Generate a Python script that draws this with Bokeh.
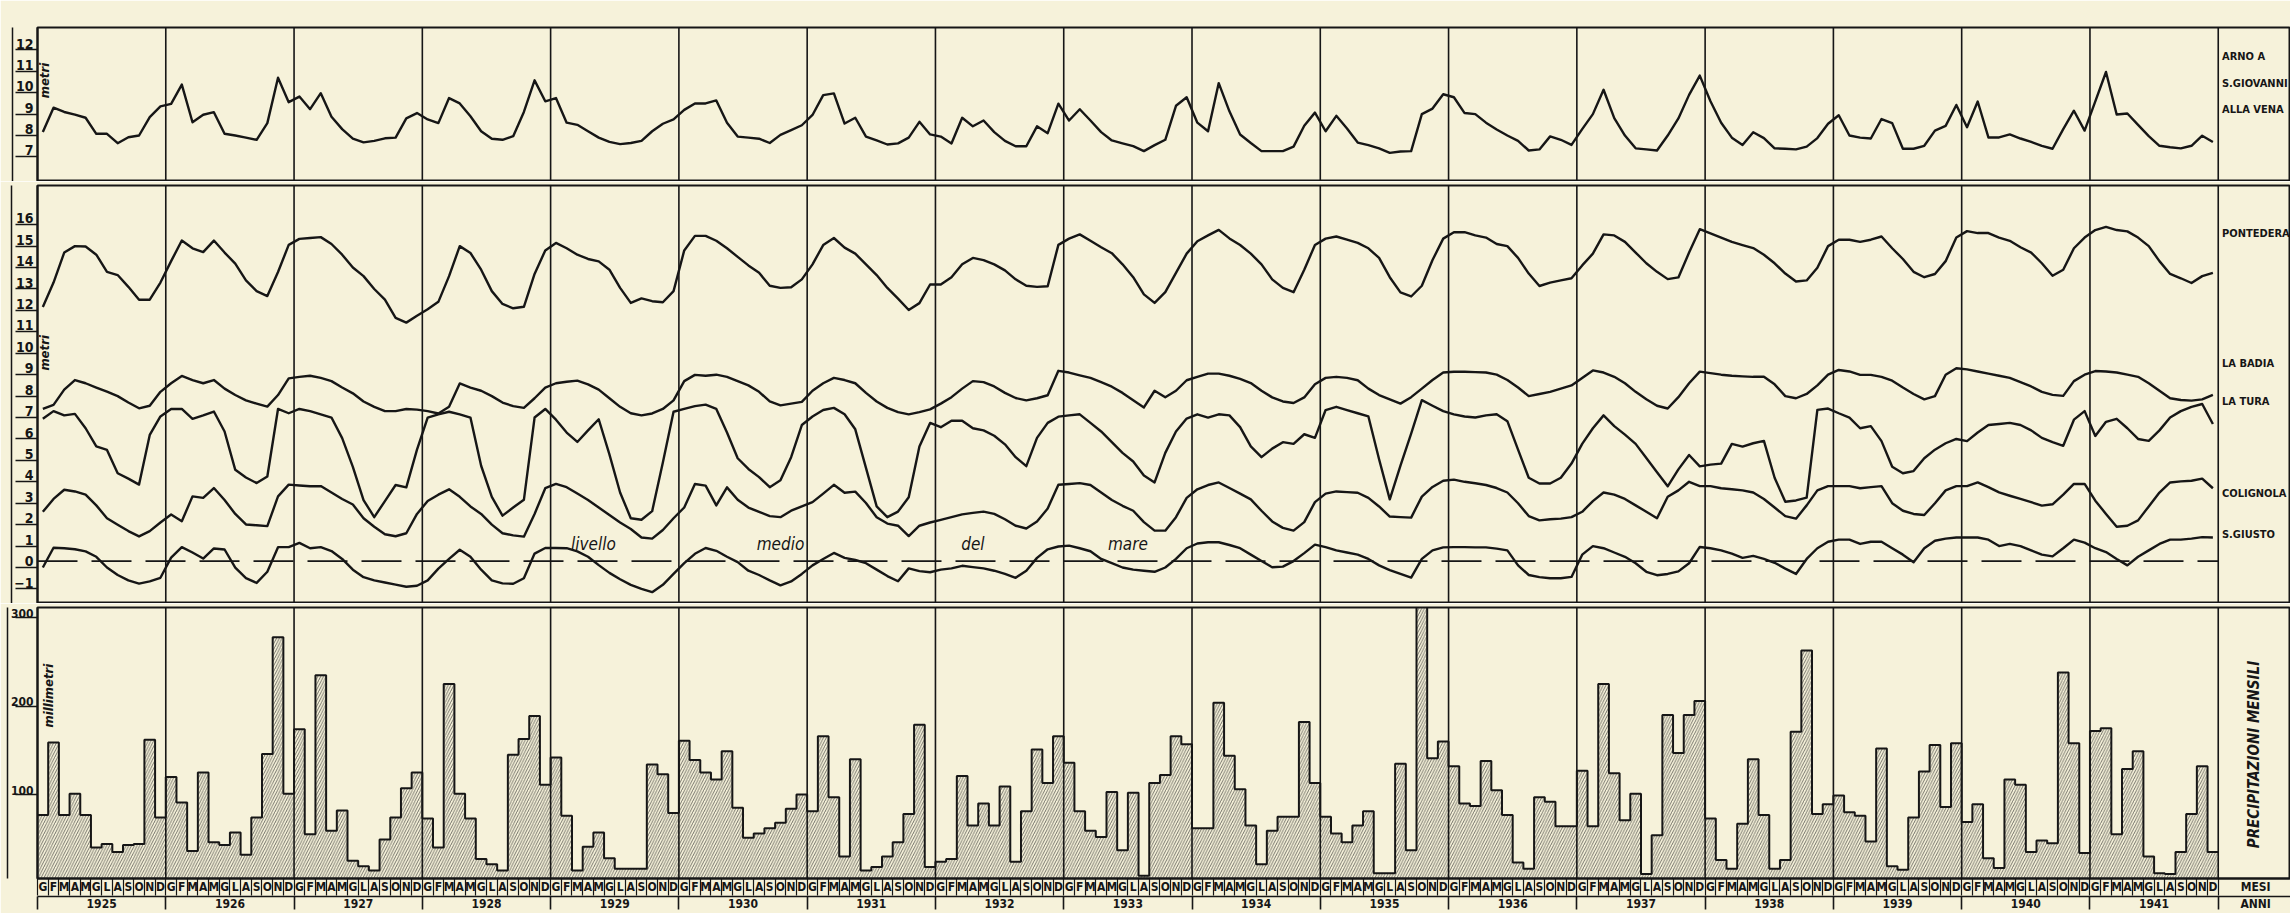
import numpy as np
from bokeh.plotting import figure
from bokeh.layouts import column
from bokeh.models import Range1d, LinearAxis, FixedTicker, Span
from bokeh.core.properties import value
from bokeh.embed import file_html
from bokeh.resources import INLINE

# ---------------- data (monthly, Jan 1925 - Dec 1941) ----------------
years = list(range(1925, 1942))
month_letters = ["G", "F", "M", "A", "M", "G", "L", "A", "S", "O", "N", "D"]

# Arno a S. Giovanni alla Vena (metri)
arno = [
    7.86, 9.00, 8.80, 8.68, 8.53, 7.78, 7.78, 7.34, 7.62, 7.70, 8.56, 9.06,
    9.18, 10.08, 8.32, 8.67, 8.79, 7.78, 7.70, 7.60, 7.50, 8.28, 10.40, 9.26,
    9.52, 8.93, 9.68, 8.58, 8.00, 7.55, 7.38, 7.45, 7.57, 7.60, 8.50, 8.75,
    8.45, 8.28, 9.45, 9.20, 8.60, 7.90, 7.55, 7.50, 7.67, 8.80, 10.28, 9.30,
    9.45, 8.30, 8.20, 7.90, 7.60, 7.40, 7.30, 7.35, 7.45, 7.90, 8.25, 8.45,
    8.90, 9.20, 9.20, 9.34, 8.30, 7.65, 7.60, 7.55, 7.35, 7.73, 7.95, 8.18,
    8.66, 9.59, 9.67, 8.26, 8.53, 7.65, 7.47, 7.28, 7.33, 7.60, 8.34, 7.75,
    7.65, 7.33, 8.53, 8.13, 8.40, 7.86, 7.45, 7.20, 7.20, 8.13, 7.81, 9.19,
    8.40, 8.93, 8.40, 7.86, 7.47, 7.33, 7.20, 6.97, 7.25, 7.50, 9.09, 9.49,
    8.30, 7.90, 10.15, 8.83, 7.75, 7.35, 6.97, 6.97, 6.97, 7.18, 8.16, 8.77,
    7.90, 8.62, 8.03, 7.37, 7.25, 7.10, 6.89, 6.95, 6.97, 8.70, 8.96, 9.63,
    9.49, 8.75, 8.70, 8.30, 7.98, 7.70, 7.45, 7.00, 7.05, 7.66, 7.50, 7.26,
    8.00, 8.70, 9.84, 8.51, 7.70, 7.10, 7.05, 7.00, 7.70, 8.50, 9.60, 10.50,
    9.30, 8.30, 7.60, 7.26, 7.85, 7.58, 7.10, 7.08, 7.05, 7.18, 7.58, 8.25,
    8.65, 7.70, 7.60, 7.56, 8.47, 8.28, 7.08, 7.08, 7.22, 7.93, 8.15, 9.13,
    8.09, 9.29, 7.61, 7.61, 7.75, 7.56, 7.40, 7.22, 7.08, 8.00, 8.86, 7.93,
    9.30, 10.67, 8.68, 8.73, 8.20, 7.67, 7.22, 7.15, 7.10, 7.22, 7.69, 7.40,
]

pontedera = [
    11.86, 13.00, 14.40, 14.70, 14.68, 14.30, 13.50, 13.35, 12.80, 12.20, 12.20, 13.00,
    14.00, 14.96, 14.60, 14.42, 14.96, 14.40, 13.88, 13.10, 12.60, 12.37, 13.49, 14.76,
    15.04, 15.08, 15.12, 14.80, 14.30, 13.70, 13.30, 12.70, 12.20, 11.35, 11.13, 11.45,
    11.75, 12.10, 13.30, 14.70, 14.38, 13.60, 12.60, 12.00, 11.80, 11.87, 13.40, 14.50,
    14.85, 14.60, 14.30, 14.10, 13.99, 13.60, 12.75, 12.05, 12.26, 12.13, 12.08, 12.60,
    14.50, 15.18, 15.18, 14.95, 14.60, 14.20, 13.80, 13.46, 12.85, 12.75, 12.78, 13.15,
    13.85, 14.75, 15.08, 14.63, 14.35, 13.85, 13.35, 12.75, 12.25, 11.72, 12.04, 12.91,
    12.91, 13.25, 13.85, 14.15, 14.05, 13.85, 13.57, 13.15, 12.85, 12.80, 12.83, 14.76,
    15.05, 15.25, 14.95, 14.65, 14.37, 13.85, 13.25, 12.45, 12.05, 12.55, 13.45, 14.35,
    14.93, 15.20, 15.46, 15.06, 14.75, 14.35, 13.85, 13.15, 12.75, 12.55, 13.60, 14.75,
    15.05, 15.15, 15.00, 14.85, 14.60, 14.15, 13.25, 12.54, 12.35, 12.85, 14.05, 15.05,
    15.35, 15.35, 15.20, 15.10, 14.80, 14.70, 14.15, 13.42, 12.84, 13.00, 13.10, 13.20,
    13.80, 14.35, 15.25, 15.20, 14.90, 14.40, 13.90, 13.50, 13.16, 13.24, 14.40, 15.49,
    15.30, 15.10, 14.90, 14.75, 14.61, 14.30, 13.90, 13.42, 13.05, 13.10, 13.69, 14.70,
    15.00, 15.00, 14.90, 15.00, 15.15, 14.60, 14.10, 13.50, 13.25, 13.40, 14.00, 15.10,
    15.40, 15.31, 15.31, 15.10, 14.95, 14.65, 14.40, 13.90, 13.32, 13.60, 14.60, 15.10,
    15.45, 15.60, 15.45, 15.39, 15.10, 14.70, 14.00, 13.40, 13.20, 12.98, 13.30, 13.45,
]

la_badia = [
    7.10, 7.29, 8.00, 8.45, 8.30, 8.10, 7.91, 7.70, 7.40, 7.13, 7.25, 7.90,
    8.30, 8.64, 8.45, 8.30, 8.45, 8.05, 7.75, 7.50, 7.35, 7.21, 7.75, 8.53,
    8.60, 8.65, 8.55, 8.40, 8.10, 7.83, 7.45, 7.20, 7.00, 7.00, 7.10, 7.07,
    7.00, 6.89, 7.20, 8.29, 8.10, 7.95, 7.70, 7.40, 7.23, 7.15, 7.60, 8.10,
    8.30, 8.37, 8.42, 8.25, 8.00, 7.60, 7.20, 6.90, 6.80, 6.89, 7.10, 7.50,
    8.40, 8.69, 8.65, 8.70, 8.60, 8.40, 8.20, 7.90, 7.45, 7.27, 7.35, 7.43,
    7.95, 8.30, 8.55, 8.45, 8.30, 7.85, 7.45, 7.15, 6.95, 6.85, 6.95, 7.08,
    7.35, 7.65, 8.05, 8.40, 8.35, 8.15, 7.85, 7.61, 7.50, 7.60, 7.74, 8.88,
    8.80, 8.67, 8.55, 8.35, 8.14, 7.85, 7.51, 7.17, 7.95, 7.65, 7.95, 8.44,
    8.60, 8.75, 8.75, 8.65, 8.50, 8.31, 7.95, 7.64, 7.45, 7.38, 7.64, 8.25,
    8.55, 8.60, 8.55, 8.44, 8.05, 7.75, 7.55, 7.35, 7.65, 8.05, 8.45, 8.80,
    8.84, 8.84, 8.82, 8.80, 8.70, 8.45, 8.10, 7.70, 7.80, 7.90, 8.05, 8.20,
    8.55, 8.90, 8.80, 8.60, 8.30, 7.90, 7.55, 7.25, 7.12, 7.65, 8.30, 8.84,
    8.77, 8.70, 8.65, 8.62, 8.60, 8.60, 8.25, 7.70, 7.60, 7.80, 8.20, 8.70,
    8.92, 8.85, 8.69, 8.69, 8.60, 8.42, 8.10, 7.80, 7.55, 7.70, 8.70, 9.00,
    8.95, 8.85, 8.75, 8.65, 8.55, 8.35, 8.15, 7.90, 7.76, 7.71, 8.40, 8.70,
    8.87, 8.85, 8.80, 8.70, 8.60, 8.30, 7.95, 7.60, 7.52, 7.49, 7.55, 7.76,
]

la_tura = [
    6.64, 7.00, 6.80, 6.87, 6.20, 5.35, 5.19, 4.10, 3.85, 3.57, 5.89, 6.75,
    7.10, 7.10, 6.64, 6.80, 6.98, 6.05, 4.26, 3.90, 3.64, 3.95, 7.10, 6.90,
    7.10, 7.00, 6.85, 6.70, 5.74, 4.40, 2.85, 2.05, 2.80, 3.55, 3.44, 5.20,
    6.70, 6.85, 6.97, 6.85, 6.70, 4.45, 3.00, 2.12, 2.50, 2.86, 6.70, 7.10,
    6.60, 6.00, 5.56, 6.10, 6.62, 4.98, 3.20, 2.00, 1.93, 2.33, 4.60, 6.97,
    7.10, 7.23, 7.30, 7.10, 6.00, 4.80, 4.30, 3.92, 3.45, 3.77, 4.85, 6.35,
    6.75, 7.05, 7.15, 6.85, 6.15, 4.35, 2.55, 2.05, 2.31, 2.98, 5.35, 6.45,
    6.25, 6.55, 6.55, 6.20, 6.10, 5.85, 5.45, 4.85, 4.43, 5.75, 6.45, 6.74,
    6.80, 6.85, 6.45, 6.05, 5.55, 5.05, 4.65, 3.99, 3.67, 5.05, 6.05, 6.65,
    6.85, 6.70, 6.85, 6.80, 6.25, 5.35, 4.85, 5.25, 5.55, 5.47, 5.92, 5.75,
    7.05, 7.20, 7.05, 6.90, 6.75, 4.75, 2.88, 4.45, 5.95, 7.51, 7.25, 7.00,
    6.85, 6.75, 6.70, 6.80, 6.85, 6.53, 5.20, 3.89, 3.62, 3.62, 3.89, 4.55,
    5.47, 6.20, 6.80, 6.30, 5.90, 5.47, 4.81, 4.15, 3.49, 4.28, 4.95, 4.42,
    4.50, 4.55, 5.47, 5.34, 5.50, 5.61, 3.89, 2.77, 2.83, 2.96, 7.06, 7.12,
    6.90, 6.70, 6.20, 6.30, 5.60, 4.40, 4.10, 4.20, 4.80, 5.20, 5.50, 5.70,
    5.60, 6.00, 6.35, 6.40, 6.45, 6.35, 6.10, 5.75, 5.55, 5.38, 6.60, 7.00,
    5.84, 6.50, 6.64, 6.20, 5.70, 5.61, 6.10, 6.70, 7.00, 7.20, 7.33, 6.40,
]

colignola = [
    2.30, 2.90, 3.33, 3.25, 3.10, 2.60, 2.00, 1.70, 1.40, 1.15, 1.40, 1.80,
    2.17, 1.86, 3.02, 2.95, 3.41, 2.85, 2.20, 1.71, 1.67, 1.63, 3.02, 3.57,
    3.53, 3.49, 3.50, 3.20, 2.90, 2.64, 2.00, 1.60, 1.25, 1.16, 1.30, 2.20,
    2.80, 3.10, 3.35, 3.00, 2.55, 2.20, 1.70, 1.30, 1.20, 1.14, 2.20, 3.40,
    3.60, 3.45, 3.15, 2.85, 2.50, 2.15, 1.80, 1.50, 1.10, 1.05, 1.45, 2.00,
    2.50, 3.60, 3.52, 2.60, 3.44, 2.86, 2.50, 2.30, 2.10, 2.05, 2.35, 2.55,
    2.75, 3.15, 3.56, 3.19, 3.24, 2.71, 2.05, 1.75, 1.65, 1.17, 1.65, 1.80,
    1.92, 2.05, 2.18, 2.25, 2.31, 2.20, 1.95, 1.65, 1.52, 1.85, 2.45, 3.56,
    3.60, 3.64, 3.55, 3.20, 2.85, 2.58, 2.35, 1.82, 1.42, 1.42, 2.05, 2.95,
    3.35, 3.55, 3.67, 3.41, 3.15, 2.88, 2.35, 1.85, 1.55, 1.42, 1.82, 2.75,
    3.15, 3.25, 3.22, 3.19, 2.95, 2.55, 2.08, 2.05, 2.03, 3.01, 3.46, 3.75,
    3.80, 3.70, 3.63, 3.55, 3.41, 3.20, 2.70, 2.10, 1.90, 1.95, 1.98, 2.05,
    2.30, 2.80, 3.20, 3.10, 2.90, 2.60, 2.30, 2.00, 3.00, 3.30, 3.70, 3.50,
    3.50, 3.40, 3.35, 3.30, 3.20, 2.90, 2.50, 2.10, 1.98, 2.60, 3.30, 3.50,
    3.50, 3.50, 3.40, 3.45, 3.50, 2.70, 2.35, 2.20, 2.15, 2.70, 3.30, 3.50,
    3.50, 3.67, 3.45, 3.21, 3.05, 2.90, 2.75, 2.59, 2.65, 3.10, 3.60, 3.60,
    2.82, 2.20, 1.60, 1.65, 1.90, 2.55, 3.20, 3.67, 3.72, 3.75, 3.85, 3.40,
]

s_giusto = [
    -0.30, 0.62, 0.60, 0.55, 0.45, 0.20, -0.30, -0.65, -0.90, -1.05, -0.95, -0.78,
    0.16, 0.65, 0.40, 0.12, 0.59, 0.54, -0.31, -0.80, -1.02, -0.50, 0.65, 0.65,
    0.85, 0.60, 0.65, 0.47, 0.10, -0.40, -0.75, -0.90, -1.00, -1.10, -1.20, -1.15,
    -0.90, -0.35, 0.10, 0.53, 0.20, -0.40, -0.90, -1.04, -1.06, -0.80, 0.35, 0.61,
    0.61, 0.60, 0.45, 0.20, -0.19, -0.55, -0.85, -1.11, -1.30, -1.45, -1.11, -0.60,
    -0.10, 0.34, 0.61, 0.48, 0.20, -0.05, -0.45, -0.65, -0.90, -1.13, -0.95, -0.60,
    -0.20, 0.10, 0.38, 0.15, 0.05, -0.10, -0.40, -0.70, -0.94, -0.34, -0.47, -0.52,
    -0.40, -0.34, -0.22, -0.28, -0.34, -0.45, -0.60, -0.78, -0.45, 0.15, 0.55, 0.68,
    0.72, 0.60, 0.46, 0.10, -0.10, -0.30, -0.40, -0.45, -0.50, -0.30, 0.10, 0.60,
    0.82, 0.88, 0.88, 0.75, 0.60, 0.30, 0.00, -0.29, -0.26, 0.00, 0.37, 0.77,
    0.65, 0.50, 0.40, 0.30, 0.10, -0.20, -0.42, -0.60, -0.77, 0.10, 0.50, 0.64,
    0.65, 0.65, 0.64, 0.64, 0.58, 0.50, -0.20, -0.65, -0.75, -0.80, -0.80, -0.74,
    0.30, 0.70, 0.60, 0.40, 0.20, -0.10, -0.50, -0.66, -0.60, -0.48, -0.10, 0.66,
    0.60, 0.50, 0.35, 0.15, 0.24, 0.10, -0.08, -0.35, -0.60, 0.10, 0.60, 0.90,
    1.00, 1.00, 0.80, 0.90, 0.90, 0.60, 0.30, -0.05, 0.60, 0.95, 1.05, 1.10,
    1.10, 1.10, 1.00, 0.70, 0.80, 0.70, 0.50, 0.30, 0.22, 0.60, 1.00, 0.86,
    0.60, 0.42, 0.10, -0.20, 0.20, 0.50, 0.80, 1.00, 1.00, 1.05, 1.12, 1.10,
]

# Precipitazioni mensili (millimetri)
precip = [
    72, 154, 72, 96, 72, 35, 39, 30, 38, 39, 157, 69,
    115, 86, 31, 120, 41, 38, 52, 27, 69, 141, 273, 96,
    169, 50, 230, 54, 77, 20, 14, 9, 44, 69, 102, 120,
    68, 35, 220, 96, 68, 22, 16, 9, 140, 158, 184, 106,
    137, 71, 9, 36, 52, 23, 11, 11, 11, 129, 118, 74,
    156, 134, 120, 112, 144, 80, 46, 51, 57, 63, 79, 95,
    76, 161, 92, 25, 135, 9, 13, 25, 41, 73, 174, 13,
    19, 22, 116, 60, 85, 60, 104, 19, 76, 146, 108, 161,
    131, 76, 54, 47, 98, 32, 97, 3, 108, 117, 161, 152,
    57, 57, 199, 139, 101, 60, 16, 54, 70, 70, 177, 108,
    70, 51, 41, 60, 76, 6, 6, 130, 32, 310, 136, 155,
    127, 85, 82, 133, 100, 72, 18, 11, 92, 87, 59, 59,
    122, 59, 220, 119, 66, 96, 5, 49, 185, 142, 185, 201,
    68, 21, 11, 62, 135, 72, 11, 21, 166, 258, 73, 84,
    94, 75, 71, 42, 147, 14, 10, 69, 121, 151, 81, 153,
    64, 84, 23, 12, 112, 106, 30, 43, 40, 233, 153, 29,
    167, 170, 50, 124, 144, 25, 6, 5, 30, 73, 127, 30,
]

top_ticks = [7, 8, 9, 10, 11, 12]
mid_ticks = list(range(-1, 17))
bar_ticks = [100, 200, 300]
sea_level = 0

# ---------------- styling ----------------
FONT = "DejaVu Sans Condensed"
PAPER = "#f6f2da"
INK = "#161616"
W = 2290

n = len(precip)
months = list(range(n))
xr = Range1d(-0.5, 210.26)


def make_fig(height, yr, top_border, xaxis=False):
    p = figure(width=W, height=height, x_range=xr, y_range=yr,
               output_backend="svg", toolbar_location=None,
               x_axis_location=("below" if xaxis else None), y_axis_location="left",
               min_border_left=37, min_border_right=0,
               min_border_top=top_border, min_border_bottom=0)
    p.background_fill_color = PAPER
    p.border_fill_color = PAPER
    p.outline_line_color = INK
    p.outline_line_width = 2
    p.grid.visible = False
    for k in range(1, len(years) + 1):
        p.add_layout(Span(location=12 * k - 0.5, dimension="height",
                          line_color=INK, line_width=1.6))
    return p


def style_left(p, ticks, minor, size="14px", out=22):
    ax = p.yaxis[0]
    ax.ticker = FixedTicker(ticks=ticks, minor_ticks=minor)
    ax.major_tick_out = 0
    ax.major_tick_in = 0
    ax.minor_tick_out = out
    ax.minor_tick_in = 0
    ax.minor_tick_line_color = INK
    ax.minor_tick_line_width = 1.3
    ax.axis_line_color = INK
    ax.axis_line_width = 2
    ax.major_label_standoff = 4 - out
    ax.major_label_text_font = FONT
    ax.major_label_text_font_style = "bold"
    ax.major_label_text_font_size = size
    ax.major_label_text_color = INK
    outer = LinearAxis(ticker=FixedTicker(ticks=[]), major_tick_out=0, major_tick_in=0,
                       minor_tick_out=0, minor_tick_in=0, axis_line_color=INK,
                       axis_line_width=1.5, major_label_text_font_size="0px")
    p.add_layout(outer, "left")


def labels(p, xs, ys, texts, size="14px", style="bold", align="left", angle=0.0):
    p.text(x=xs, y=ys, text=texts, text_font=value(FONT), text_font_style=style,
           text_font_size=value(size), text_color=INK, text_align=align,
           text_baseline="middle", angle=angle)


# ---------- top panel : Arno a S. Giovanni alla Vena ----------
p_top = make_fig(181, Range1d(5.55, 12.75), 27)
style_left(p_top, top_ticks, [t - 0.3 for t in top_ticks])
p_top.line(months, arno, line_width=2.4, line_color=INK, line_join="round")
labels(p_top, [0.15], [10.27], ["metri"], size="13px", style="bold italic",
       align="center", angle=np.pi / 2)
labels(p_top, [203.85] * 3, [11.4, 10.15, 8.9], ["ARNO A", "S.GIOVANNI", "ALLA VENA"],
       size="11px")

# ---------- middle panel : five stations ----------
p_mid = make_fig(422, Range1d(-1.98, 17.53), 4)
style_left(p_mid, mid_ticks, [t - 0.3 for t in mid_ticks])
for series in (pontedera, la_badia, la_tura, colignola, s_giusto):
    p_mid.line(months, series, line_width=2.4, line_color=INK, line_join="round")
p_mid.line([months[0] - 0.5, months[-1] + 0.5], [sea_level, sea_level],
           line_width=1.6, line_color=INK, line_dash="40 14")
labels(p_mid, [51.5, 69.0, 87.0, 101.5], [0.8] * 4,
       ["livello", "medio", "del", "mare"], size="17px", style="italic", align="center")
labels(p_mid, [0.15], [9.72], ["metri"], size="13px", style="bold italic",
       align="center", angle=np.pi / 2)
labels(p_mid, [203.85] * 5, [15.3, 9.2, 7.45, 3.15, 1.25],
       ["PONTEDERA", "LA BADIA", "LA TURA", "COLIGNOLA", "S.GIUSTO"], size="11px")

# ---------- bottom panel : monthly precipitation ----------
p_bot = make_fig(310, Range1d(0, 306.7), 4, xaxis=True)
style_left(p_bot, bar_ticks, [t - 5 for t in bar_ticks], size="12px", out=22)
p_bot.vbar(x=months, top=precip, bottom=0, width=1.0, fill_color=None, line_color=None,
           hatch_pattern="/", hatch_color="#2a2a2a", hatch_scale=5.5, hatch_weight=0.85,
           hatch_alpha=0.75)
edges = [m - 0.5 for m in months] + [months[-1] + 0.5]
p_bot.step(edges, list(precip) + [precip[-1]], mode="after", line_width=2.0,
           line_color=INK)
labels(p_bot, [0.53], [207], ["millimetri"], size="13px", style="bold italic",
       align="center", angle=np.pi / 2)
labels(p_bot, [206.8], [143], ["PRECIPITAZIONI  MENSILI"], size="15px",
       style="bold italic", align="center", angle=np.pi / 2)

# month row
max_ = p_bot.xaxis[0]
max_.ticker = FixedTicker(ticks=months + [207], minor_ticks=edges)
ov = {m: month_letters[m % 12] for m in months}
ov[207] = "MESI"
max_.major_label_overrides = ov
max_.major_tick_out = 0
max_.major_tick_in = 0
max_.minor_tick_out = 17
max_.minor_tick_in = 0
max_.minor_tick_line_color = INK
max_.minor_tick_line_width = 1.2
max_.axis_line_color = INK
max_.axis_line_width = 2
max_.major_label_standoff = -16
max_.major_label_text_font = FONT
max_.major_label_text_font_style = "bold"
max_.major_label_text_font_size = "12px"
max_.major_label_text_color = INK

# year row
year_centers = [12 * k + 5.5 for k in range(len(years))]
yov = {c: str(y) for c, y in zip(year_centers, years)}
yov[207] = "ANNI"
yax = LinearAxis(ticker=FixedTicker(ticks=year_centers + [207],
                                    minor_ticks=[12 * k - 0.5 for k in range(len(years) + 1)]),
                 major_label_overrides=yov, major_tick_out=0, major_tick_in=0,
                 minor_tick_out=13, minor_tick_in=0, minor_tick_line_color=INK,
                 minor_tick_line_width=1.6, axis_line_color=INK, axis_line_width=1.6,
                 major_label_standoff=-13, major_label_text_font=FONT,
                 major_label_text_font_style="bold", major_label_text_font_size="12px",
                 major_label_text_color=INK)
p_bot.add_layout(yax, "below")

layout = column(p_top, p_mid, p_bot, spacing=0)
open("out.html", "w").write(file_html(layout, INLINE))
